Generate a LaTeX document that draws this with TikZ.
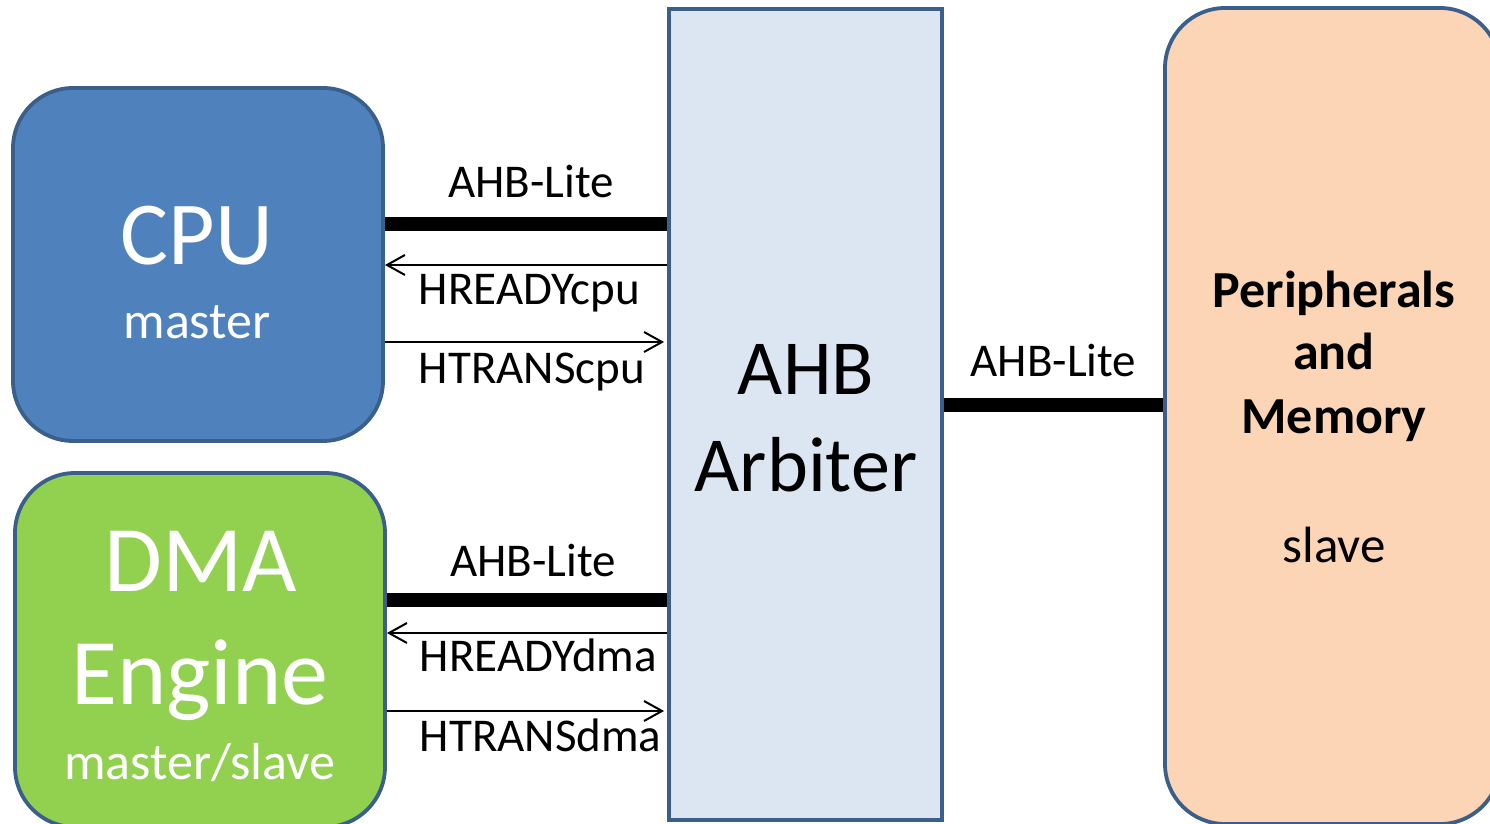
\documentclass[tikz,border=0pt]{standalone}
\usepackage{fontspec}
\setmainfont{Carlito}
\usepackage{tikz}
\usetikzlibrary{arrows.meta}

\definecolor{cpublue}{HTML}{4F81BD}
\definecolor{dmagreen}{HTML}{92D050}
\definecolor{arbfill}{HTML}{DCE6F2}
\definecolor{memfill}{HTML}{FBD5B5}
\definecolor{edgeblue}{HTML}{3A5F8B}

\begin{document}
\begin{tikzpicture}[x=0.5pt, y=0.5pt, >={Straight Barb[length=9pt,width=10pt]},
    every node/.style={font=\fontsize{23.5}{28}\selectfont, inner sep=0pt},
    blk/.style={draw=edgeblue, line width=1.9pt, rounded corners=30pt},
    bus/.style={line width=7pt},
    sig/.style={->, line width=1pt}]
  \useasboundingbox (0,0) rectangle (1490,824);
  \clip (0,0) rectangle (1490,824);

  % blocks
  \node[blk, fill=cpublue, minimum width=185pt, minimum height=176.5pt] (cpu) at (198,559.5) {};
  \node[blk, fill=dmagreen, minimum width=185pt, minimum height=177pt] (dma) at (200,174) {};
  \node[blk, sharp corners, fill=arbfill, minimum width=136.5pt, minimum height=405.5pt] (arb) at (805.5,409.5) {};
  \node[blk, fill=memfill, minimum width=167.5pt, minimum height=408pt] (mem) at (1332.5,408) {};

  % block texts
  \node[text=white, font=\fontsize{45}{54}\selectfont, anchor=base] (cputxt) at (197,559) {CPU};
  \node[text=white, font=\fontsize{26}{31}\selectfont, anchor=base] (cpurole) at (197,485) {master};
  \node[text=white, font=\fontsize{47}{56}\selectfont, anchor=base] (dmatxt) at (201,232) {DMA};
  \node[text=white, font=\fontsize{47}{56}\selectfont, anchor=base] (dmatxtb) at (200,119) {Engine};
  \node[text=white, font=\fontsize{26}{31}\selectfont, anchor=base] (dmarole) at (200,44) {master/slave};
  \node[font=\fontsize{39}{47}\selectfont, anchor=base] (arbtxt) at (806,429) {AHB};
  \node[font=\fontsize{39}{47}\selectfont, anchor=base] (arbtxtb) at (806,332) {Arbiter};
  \node[font=\bfseries\fontsize{26}{31}\selectfont, anchor=base] (memtxt) at (1334,516) {Peripherals};
  \node[font=\bfseries\fontsize{26}{31}\selectfont, anchor=base] (memtxtb) at (1334,454) {and};
  \node[font=\bfseries\fontsize{26}{31}\selectfont, anchor=base] (memtxtc) at (1334,390) {Memory};
  \node[font=\fontsize{25.5}{31}\selectfont, anchor=base] (memrole) at (1334,261) {slave};

  % CPU side
  \draw[bus] (cpu.east |- 0,599.5) -- node[anchor=base, xshift=2.5pt, yshift=13.5pt] (cpubus) {AHB-Lite} (arb.west |- 0,599.5);
  \draw[sig] (arb.west |- 0,559) -- node[pos=1, anchor=base west, xshift=16.5pt, yshift=-20pt] (cpuready) {HREADYcpu} (cpu.east |- 0,559);
  \draw[sig, shorten >=1.5pt] (cpu.east |- 0,482) -- node[pos=0, anchor=base west, xshift=16.5pt, yshift=-21pt] (cputrans) {HTRANScpu} (arb.west |- 0,482);

  % DMA side
  \draw[bus] (dma.east |- 0,224) -- node[anchor=base, xshift=3pt, yshift=11.5pt] (dmabus) {AHB-Lite} (arb.west |- 0,224);
  \draw[sig] (arb.west |- 0,191) -- node[pos=1, anchor=base west, xshift=16pt, yshift=-19.5pt] (dmaready) {HREADYdma} (dma.east |- 0,191);
  \draw[sig, shorten >=1.5pt] (dma.east |- 0,113) -- node[pos=0, anchor=base west, xshift=16pt, yshift=-20.5pt] (dmatrans) {HTRANSdma} (arb.west |- 0,113);

  % slave side
  \draw[bus] (arb.east |- 0,419) -- node[anchor=base, yshift=14pt] (membus) {AHB-Lite} (mem.west |- 0,419);
\end{tikzpicture}
\end{document}
